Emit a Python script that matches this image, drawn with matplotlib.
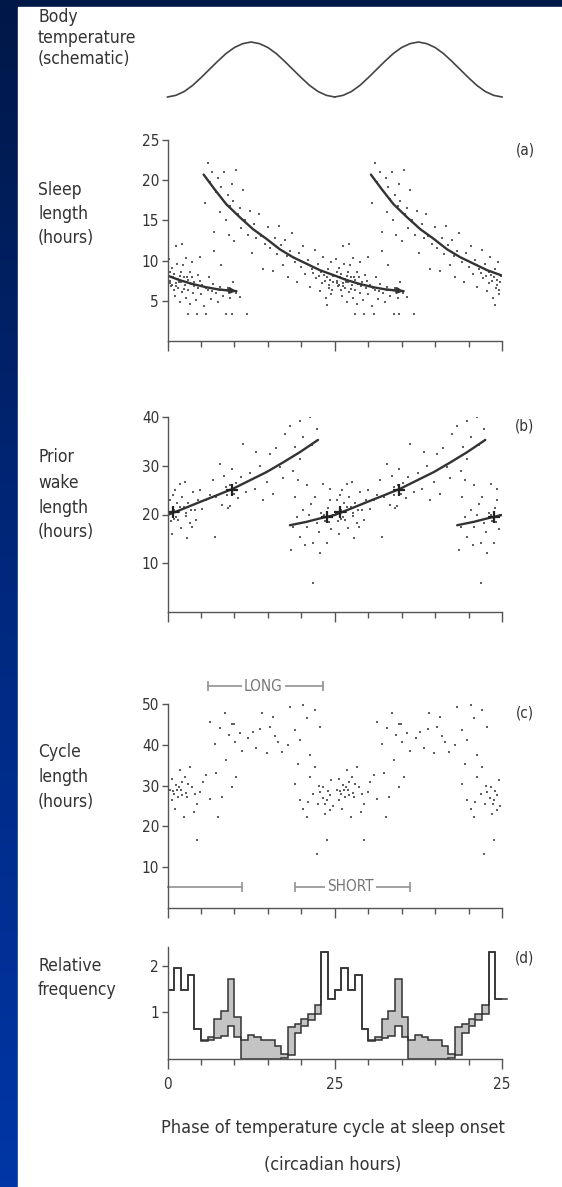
import numpy as np
import matplotlib
matplotlib.use('Agg')
import matplotlib.pyplot as plt
from matplotlib.patches import Rectangle
from matplotlib.colors import LinearSegmentedColormap
from matplotlib import font_manager

names = {f.name for f in font_manager.fontManager.ttflist}
cond = [f for f in font_manager.fontManager.ttflist
        if f.name == 'DejaVu Sans' and str(f.stretch) in ('condensed', '500', 'semi-condensed')]
if 'Liberation Sans Narrow' in names:
    plt.rcParams['font.family'] = ['Liberation Sans Narrow', 'DejaVu Sans']
else:
    plt.rcParams['font.family'] = ['DejaVu Sans']
    if cond:
        plt.rcParams['font.stretch'] = 'condensed'

W, H = 562, 1187
CYCLE = 25  # circadian hours per cycle (double plotted)

# ---------------- data (phase in circadian hours, one cycle; double plotted) -------------
temp_phase = [0, 1.25, 2.5, 3.75, 5, 6.25, 7.5, 8.75, 10, 11.25, 12.5,
              13.75, 15, 16.25, 17.5, 18.75, 20, 21.25, 22.5, 23.75, 25]
temp_level = [0.00, 0.03, 0.10, 0.21, 0.35, 0.50, 0.65, 0.79, 0.90, 0.97, 1.00,
              0.97, 0.90, 0.79, 0.65, 0.50, 0.35, 0.21, 0.10, 0.03, 0.00]

# (a) sleep length
a_curve_phase = [5.4, 7.1, 8.8, 10.8, 12.8, 14.8, 16.8, 18.8, 20.8, 22.8, 24.8,
                 26.7, 28.7, 30.7, 32.7, 35.3]
a_curve_hours = [20.7, 18.8, 17.0, 15.4, 13.9, 12.7, 11.4, 10.4, 9.6, 8.8, 8.2,
                 7.6, 7.1, 6.7, 6.4, 6.2]
a_points = [
    (0.2, 10.2), (0.3, 8.6), (0.4, 7.5), (0.5, 6.9), (0.6, 9.1), (0.8, 7.9), (0.9, 6.3), (1.0, 8.3),
    (1.1, 5.6), (1.2, 7.2), (1.3, 11.8), (1.4, 9.6), (1.5, 7.7), (1.6, 6.6), (1.8, 8.1), (1.9, 4.9),
    (2.0, 7.4), (2.1, 12.1), (2.2, 6.1), (2.3, 9.4), (2.4, 8.0), (2.6, 7.0), (2.7, 5.4), (2.8, 10.3),
    (3.0, 3.4), (3.0, 7.6), (3.1, 6.4), (3.3, 8.6), (3.4, 4.6), (3.5, 7.1), (3.7, 9.8), (3.8, 6.0),
    (4.0, 7.3), (4.2, 5.1), (4.4, 3.4), (4.5, 8.2), (4.6, 6.6), (4.9, 10.5), (5.0, 5.8), (5.2, 7.0),
    (5.5, 4.4), (5.8, 3.4), (6.0, 6.3), (6.2, 8.0), (6.5, 5.2), (6.8, 7.1), (7.0, 11.2), (7.2, 6.0),
    (7.5, 4.8), (7.8, 6.7), (8.0, 9.4), (8.3, 5.6), (8.8, 3.4), (9.0, 6.6), (9.4, 5.3), (9.6, 3.4),
    (9.8, 7.3), (10.2, 6.0), (10.8, 5.5), (11.9, 3.4), (0.7, 7.0), (1.7, 7.3), (2.5, 6.5), (3.6, 8.0),
    (0.3, 7.2), (1.2, 6.8), (2.0, 8.6), (2.9, 7.9), (3.9, 6.9), (4.8, 7.5), (5.7, 6.6), (6.6, 6.2),
    (5.6, 17.2), (6.0, 22.2), (6.3, 19.8), (6.7, 21.0), (7.0, 13.5), (7.3, 18.5), (7.6, 20.3), (7.8, 16.0),
    (8.0, 19.2), (8.2, 17.6), (8.5, 21.0), (8.7, 15.0), (9.0, 18.2), (9.2, 13.2), (9.4, 16.8), (9.6, 19.5),
    (9.8, 17.4), (10.0, 12.5), (10.3, 21.3), (10.5, 15.8), (10.8, 16.6), (11.0, 14.0), (11.3, 18.8), (11.6, 15.0),
    (12.0, 13.2), (12.3, 16.2), (12.6, 11.0), (13.0, 14.6), (13.3, 12.8), (13.7, 15.8), (14.0, 13.0), (14.3, 9.0),
    (14.6, 12.1), (15.0, 14.2), (15.3, 11.6), (15.7, 8.7), (16.0, 12.8), (16.3, 10.8), (16.7, 14.3), (17.0, 11.9),
    (17.2, 9.5), (17.5, 12.6), (17.8, 10.6), (18.0, 8.0), (18.3, 11.2), (18.6, 13.4), (19.0, 9.8), (19.3, 7.4),
    (19.6, 10.9), (20.0, 9.2), (20.3, 11.8), (20.6, 8.3), (21.0, 10.1), (21.3, 6.7), (21.6, 9.0), (22.0, 11.3),
    (22.2, 7.8), (22.5, 9.6), (22.8, 6.2), (23.0, 8.6), (23.2, 10.4), (23.5, 7.5), (23.7, 5.4), (24.0, 8.9),
    (24.2, 7.0), (24.4, 9.8), (24.6, 6.4), (24.8, 8.1), (23.9, 4.5), (24.5, 5.9), (23.4, 8.2), (24.3, 7.6),
    (22.6, 8.1), (23.1, 7.2), (23.8, 7.9), (24.1, 6.6), (24.7, 7.3), (21.8, 8.4),
]

# (b) prior wake length
b_curve_phase = [18.3, 20.8, 22.8, 25.0, 27.4, 29.9, 32.3, 34.8, 37.3, 39.8, 42.3, 44.8, 47.5]
b_curve_hours = [17.8, 18.5, 19.2, 19.9, 21.2, 22.6, 23.9, 25.3, 27.0, 28.7, 30.7, 32.8, 35.3]
b_means = [(0.8, 20.5), (9.6, 25.0), (23.8, 19.4)]
b_points = [
    (0.2, 20.1), (0.4, 22.9), (0.5, 18.6), (0.6, 16.1), (0.8, 24.0), (1.0, 21.0), (1.1, 25.0), (1.3, 19.4),
    (1.4, 22.3), (1.6, 18.8), (1.7, 20.6), (1.9, 26.3), (2.0, 17.2), (2.2, 23.5), (2.4, 21.6), (2.6, 26.7),
    (2.7, 19.6), (2.9, 15.1), (3.1, 22.4), (3.3, 18.2), (3.6, 17.5), (3.8, 24.6), (4.1, 20.9), (4.3, 18.8),
    (4.6, 23.0), (4.9, 25.0), (5.2, 21.2), (5.8, 22.9), (6.3, 24.1), (7.1, 15.4), (6.8, 27.0), (7.3, 23.6),
    (7.8, 30.4), (8.2, 22.0), (8.5, 27.8), (8.8, 25.6), (9.0, 21.4), (9.3, 21.7), (9.6, 29.4), (9.9, 24.3),
    (10.2, 26.4), (10.6, 23.4), (11.0, 27.6), (11.3, 34.5), (11.8, 24.6), (12.4, 28.6), (13.1, 25.3), (13.3, 32.8),
    (13.8, 30.0), (14.3, 22.9), (14.8, 26.7), (15.3, 32.4), (15.8, 24.3), (16.2, 33.6), (16.8, 29.7), (17.5, 36.5),
    (17.2, 27.4), (18.3, 38.2), (18.8, 29.0), (19.1, 33.9), (19.5, 27.0), (19.8, 39.1), (19.8, 31.4), (20.3, 36.0),
    (20.8, 26.0), (21.3, 39.9), (21.6, 34.2), (22.3, 37.5), (21.8, 6.0),
    (18.5, 12.7), (18.8, 17.4), (19.0, 23.6), (19.4, 19.5), (19.8, 15.4), (20.3, 20.9), (20.6, 13.8), (20.8, 17.5),
    (21.2, 19.8), (21.5, 22.1), (21.8, 14.1), (22.0, 23.6), (22.3, 18.2), (22.6, 16.4), (22.8, 12.0), (23.0, 20.4),
    (23.3, 26.3), (23.5, 18.6), (23.8, 14.1), (24.0, 21.3), (24.3, 22.9), (24.3, 25.3), (24.5, 17.0), (24.7, 19.8),
    (0.9, 19.0), (1.8, 21.5), (2.8, 20.3), (3.5, 21.0), (8.9, 24.0), (9.4, 26.0), (23.4, 20.0), (24.1, 18.5),
]

# (c) cycle length
c_long_range = (6.0, 23.2)
c_short_range = (19.0, 36.3)
c_short_wrap = (0.0, 11.2)
c_points = [
    (0.3, 29.0), (0.6, 31.7), (0.6, 26.4), (0.8, 28.6), (1.1, 24.3), (1.2, 30.1), (1.4, 28.9), (1.6, 27.2),
    (1.7, 29.6), (1.9, 33.8), (2.1, 30.9), (2.2, 27.8), (2.4, 22.3), (2.6, 32.1), (2.7, 28.2), (2.9, 27.2),
    (3.1, 30.4), (3.4, 34.6), (3.6, 29.7), (3.9, 23.5), (4.1, 28.0), (4.4, 25.6), (4.4, 16.6), (4.9, 28.4),
    (5.3, 31.0), (5.8, 32.5), (1.0, 28.0), (2.0, 29.0),
    (6.3, 45.7), (7.1, 40.3), (7.8, 44.0), (8.6, 47.7), (9.6, 45.2), (10.1, 40.7), (10.8, 42.8), (11.8, 50.2),
    (12.1, 41.6), (12.8, 43.2), (13.3, 39.1), (14.1, 47.7), (14.8, 37.9), (15.3, 44.4), (15.8, 46.9), (16.5, 40.7),
    (17.1, 38.3), (18.3, 49.3), (19.0, 43.6), (19.8, 41.1), (20.3, 49.8), (20.8, 46.5), (21.8, 50.6), (22.0, 48.5),
    (21.3, 37.5), (19.5, 35.4), (22.8, 44.4), (8.8, 36.2), (10.3, 32.1), (9.6, 29.7), (7.3, 33.0), (8.1, 27.2),
    (6.3, 26.8), (7.6, 22.3), (9.2, 42.3), (11.2, 38.6), (13.9, 43.8), (16.1, 42.2), (18.0, 40.0), (9.9, 45.0),
    (19.0, 30.5), (19.8, 26.4), (20.8, 22.3), (21.8, 28.0), (22.5, 25.6), (23.3, 29.7), (23.8, 26.4), (24.3, 23.9),
    (23.5, 23.1), (24.5, 31.3), (21.3, 32.1), (20.3, 24.3), (22.3, 13.3), (23.8, 16.6), (22.0, 34.6), (22.8, 28.4),
    (24.3, 27.6), (23.6, 25.5), (23.2, 27.0), (24.0, 28.6), (22.6, 30.0), (21.0, 26.0), (24.7, 25.0),
]

# (d) relative frequency, 1-h bins (two distributions)
d_dist_a = [1.48, 1.95, 1.48, 1.80, 0.64, 0.41, 0.48, 0.85, 1.03, 1.72, 0.90, 0.00, 0.00,
            0.00, 0.00, 0.00, 0.00, 0.02, 0.69, 0.76, 0.86, 0.96, 1.15, 2.30, 1.28]
d_dist_b = [1.48, 1.95, 1.48, 1.80, 0.64, 0.38, 0.41, 0.45, 0.50, 0.70, 0.48, 0.41, 0.52,
            0.47, 0.41, 0.41, 0.27, 0.11, 0.08, 0.55, 0.70, 0.84, 0.96, 2.30, 1.28]

x_tick_labels = ['0', '25', '25']

# ---------------- figure --------------------------------------------------------------
fig = plt.figure(figsize=(W / 100, H / 100), dpi=100)

bg = fig.add_axes([0, 0, 1, 1], zorder=-10)
cmap = LinearSegmentedColormap.from_list('bg', ['#001848', '#00287e', '#0036a6'])
bg.imshow(np.linspace(0, 1, 256).reshape(-1, 1), aspect='auto', cmap=cmap,
          extent=[0, W, H, 0])
bg.add_patch(Rectangle((18, 7), W - 18, H - 7, color='white'))
bg.set_xlim(0, W)
bg.set_ylim(H, 0)
bg.axis('off')

LINE = '#333333'
AXC = '#555555'
TXT = '#333333'


def add_ax(x0, ytop, x1, ybot):
    return fig.add_axes([x0 / W, 1 - ybot / H, (x1 - x0) / W, (ybot - ytop) / H])


def style(ax, ymax, yticks):
    ax.set_xlim(0, 2 * CYCLE)
    ax.set_ylim(0, ymax)
    ax.patch.set_alpha(0)
    for s in ('top', 'right'):
        ax.spines[s].set_visible(False)
    for s in ('left', 'bottom'):
        ax.spines[s].set_color(AXC)
        ax.spines[s].set_linewidth(1.0)
    ax.set_xticks([0, CYCLE, 2 * CYCLE])
    ax.set_xticks(np.arange(0, 2 * CYCLE + 1, 5), minor=True)
    ax.set_xticklabels([])
    ax.tick_params(axis='x', which='major', direction='out', length=7, color=AXC, width=1)
    ax.tick_params(axis='x', which='minor', direction='out', length=4, color=AXC, width=1)
    ax.set_yticks(yticks)
    ax.set_yticklabels([str(t) for t in yticks])
    ax.tick_params(axis='y', direction='out', length=4, pad=2, labelsize=11,
                   labelcolor=TXT, color=AXC, width=1)


def scatter_double(ax, pts):
    p = np.array(pts)
    for k in (0, CYCLE):
        ax.plot(p[:, 0] + k, p[:, 1], 's', ms=1.8, mew=0, color='#444444', alpha=0.85)


def curve_copies(ax, ph, val, arrows):
    ph = np.array(ph)
    val = np.array(val)
    for k in (-CYCLE, 0, CYCLE):
        ax.plot(ph + k, val, color=LINE, lw=1.7, solid_capstyle='round')
        if arrows and 0 < ph[-1] + k <= 2 * CYCLE:
            ax.annotate('', xy=(ph[-1] + k, val[-1]), xytext=(ph[-2] + k, val[-2]),
                        arrowprops=dict(arrowstyle='-|>', color=LINE, lw=1.4,
                                        mutation_scale=9, shrinkA=0, shrinkB=0))


def left_label(lines, ytops, x=38):
    for t, y in zip(lines, ytops):
        fig.text(x / W, 1 - y / H, t, ha='left', va='center', fontsize=12.5, color=TXT)


# temperature schematic
axt = add_ax(167.5, 42, 502, 97)
axt.set_xlim(0, 2 * CYCLE)
axt.set_ylim(0, 1)
axt.axis('off')
tp = np.array(temp_phase)
for k in (0, CYCLE):
    axt.plot(tp + k, temp_level, color='#444444', lw=1.2, clip_on=False)
left_label(['Body', 'temperature', '(schematic)'], [17, 38, 59])

# (a)
axa = add_ax(167.5, 140, 502, 341)
style(axa, 25, [5, 10, 15, 20, 25])
scatter_double(axa, a_points)
curve_copies(axa, a_curve_phase, a_curve_hours, arrows=True)
left_label(['Sleep', 'length', '(hours)'], [190, 214, 238])
fig.text(525 / W, 1 - 150 / H, '(a)', ha='center', va='center', fontsize=11, color=TXT)

# (b)
axb = add_ax(167.5, 417, 502, 612)
style(axb, 40, [10, 20, 30, 40])
scatter_double(axb, b_points)
curve_copies(axb, b_curve_phase, b_curve_hours, arrows=False)
bm = np.array(b_means)
for k in (0, CYCLE):
    axb.plot(bm[:, 0] + k, bm[:, 1], '+', ms=8, mew=1.6, color='#222222')
left_label(['Prior', 'wake', 'length', '(hours)'], [457, 483, 508, 532])
fig.text(525 / W, 1 - 426 / H, '(b)', ha='center', va='center', fontsize=11, color=TXT)

# (c)
axc = add_ax(167.5, 704, 502, 908)
style(axc, 50, [10, 20, 30, 40, 50])
scatter_double(axc, c_points)
BAR = '#9a9a9a'
for (lo, hi), yv, lab, caps in [(c_long_range, 54.4, 'LONG', (True, True)),
                                (c_short_range, 5.2, 'SHORT', (True, True)),
                                (c_short_wrap, 5.2, None, (False, True))]:
    axc.plot([lo, hi], [yv, yv], color=BAR, lw=1.3, clip_on=False)
    if caps[0]:
        axc.plot([lo], [yv], '|', ms=7, mew=1.3, color=BAR, clip_on=False)
    if caps[1]:
        axc.plot([hi], [yv], '|', ms=7, mew=1.3, color=BAR, clip_on=False)
    if lab:
        axc.text((lo + hi) / 2 - 0.3, yv, lab, ha='center', va='center', fontsize=11,
                 color='#777777', clip_on=False,
                 bbox=dict(boxstyle='square,pad=0.15', fc='white', ec='none'))
left_label(['Cycle', 'length', '(hours)'], [752, 777, 802])
fig.text(525 / W, 1 - 713 / H, '(c)', ha='center', va='center', fontsize=11, color=TXT)

# (d)
axd = add_ax(167.5, 947, 502, 1059)
style(axd, 2.4, [1, 2])
da = np.array(d_dist_a * 2)
db = np.array(d_dist_b * 2)
edges = np.arange(0, 2 * CYCLE + 1)
axd.fill_between(edges, np.append(da, da[-1]), np.append(db, db[-1]), step='post',
                 color='#c4c4c4', lw=0)
axd.stairs(da, edges, color=LINE, lw=1.1, baseline=None)
axd.stairs(db, edges, color=LINE, lw=1.1, baseline=None)
axd.plot([2 * CYCLE, 2 * CYCLE + 0.8], [da[-1], da[-1]], color=LINE, lw=1.1, clip_on=False)
axd.set_xticklabels(x_tick_labels)
axd.tick_params(axis='x', which='major', labelsize=11, labelcolor=TXT, pad=6)
left_label(['Relative', 'frequency'], [966, 990])
fig.text(525 / W, 1 - 958 / H, '(d)', ha='center', va='center', fontsize=11, color=TXT)

fig.text(333 / W, 1 - 1128 / H, 'Phase of temperature cycle at sleep onset',
         ha='center', va='center', fontsize=13, color=TXT)
fig.text(333 / W, 1 - 1165 / H, '(circadian hours)', ha='center', va='center',
         fontsize=13, color=TXT)

fig.savefig('out.png', dpi=100)
